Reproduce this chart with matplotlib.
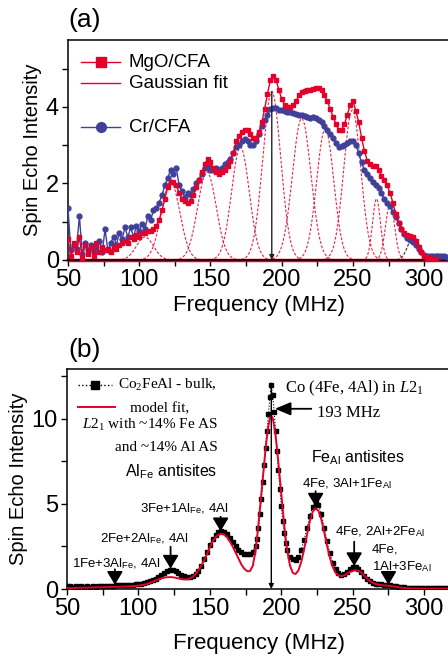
import numpy as np
import matplotlib
matplotlib.use('Agg')
import matplotlib.pyplot as plt
from matplotlib.ticker import MultipleLocator

plt.rcParams['font.family'] = 'Liberation Sans'
plt.rcParams['mathtext.fontset'] = 'custom'
plt.rcParams['mathtext.rm'] = 'Liberation Serif'
plt.rcParams['mathtext.it'] = 'Liberation Serif:italic'
plt.rcParams['mathtext.sf'] = 'Liberation Sans'

# ---------------- panel (a) data ----------------
freq_mgo = np.arange(50, 310, 2)
mgo_cfa = [0.55, 0.10, 0.45, 0.20, 0.60, 0.05, 0.40, 0.15, 0.35, 0.10,
           0.45, 0.20, 0.35, 0.25, 0.30, 0.20, 0.35, 0.30, 0.40, 0.45,
           0.50, 0.45, 0.60, 0.55, 0.65, 0.60, 0.70, 0.70, 0.75, 0.75,
           0.80, 0.90, 1.05, 1.30, 1.60, 1.90, 2.05, 2.05, 1.95, 1.75,
           1.60, 1.55, 1.50, 1.55, 1.70, 1.90, 2.10, 2.30, 2.50, 2.65,
           2.55, 2.40, 2.30, 2.25, 2.30, 2.35, 2.45, 2.60, 2.80, 3.10,
           3.25, 3.35, 3.40, 3.40, 3.30, 3.20, 3.20, 3.35, 3.60, 3.95,
           4.35, 4.70, 4.80, 4.70, 4.45, 4.20, 4.05, 4.00, 4.00, 4.05,
           4.15, 4.30, 4.38, 4.42, 4.45, 4.45, 4.47, 4.50, 4.50, 4.45,
           4.30, 4.15, 3.95, 3.75, 3.55, 3.40, 3.40, 3.55, 3.80, 4.05,
           4.15, 3.90, 3.60, 3.20, 2.85, 2.60, 2.50, 2.45, 2.45, 2.35,
           2.20, 2.10, 1.95, 1.75, 1.50, 1.20, 0.98, 0.80, 0.70, 0.66,
           0.63, 0.60, 0.50, 0.35, 0.20, 0.10, 0.06, 0.04, 0.03, 0.03]

freq_cr = np.arange(50, 318, 2)
cr_cfa = [1.35, 0.25, 0.40, 0.30, 1.15, 0.15, 0.45, 0.25, 0.40, 0.20,
          0.35, 0.50, 0.20, 0.80, 0.25, 0.45, 0.60, 0.40, 0.70, 0.55,
          0.85, 0.60, 0.85, 0.60, 0.90, 0.75, 0.95, 0.80, 1.15, 1.05,
          1.30, 1.35, 1.50, 1.70, 1.95, 2.15, 2.35, 2.25, 2.40, 1.95,
          1.80, 1.65, 1.75, 1.70, 1.85, 2.00, 2.10, 2.25, 2.40, 2.45,
          2.35, 2.35, 2.40, 2.35, 2.40, 2.50, 2.55, 2.65, 2.80, 2.95,
          3.00, 3.10, 3.15, 3.10, 3.00, 3.00, 3.10, 3.30, 3.50, 3.65,
          3.80, 3.95, 3.98, 3.96, 3.93, 3.92, 3.90, 3.88, 3.86, 3.85,
          3.82, 3.80, 3.78, 3.76, 3.73, 3.72, 3.73, 3.70, 3.65, 3.60,
          3.50, 3.40, 3.30, 3.20, 3.05, 2.95, 2.98, 3.00, 3.05, 3.12,
          3.10, 3.00, 2.80, 2.55, 2.35, 2.25, 2.15, 2.05, 1.95, 1.88,
          1.75, 1.60, 1.50, 1.40, 1.25, 1.12, 0.98, 0.82, 0.68, 0.58,
          0.52, 0.48, 0.40, 0.30, 0.20, 0.14, 0.10, 0.10, 0.10, 0.10,
          0.10, 0.10, 0.10, 0.09]

# Gaussian fit components (centre MHz, height, sigma MHz)
gauss_center = [104, 122, 147.5, 171, 193, 214, 230.5, 249.5, 266.5, 276, 292.5]
gauss_height = [0.6, 2.05, 2.3, 2.95, 4.4, 3.7, 3.42, 3.92, 1.6, 1.45, 0.62]
gauss_sigma = [6.0, 6.5, 6.5, 6.2, 6.3, 6.5, 6.0, 6.0, 2.8, 3.2, 4.0]

# ---------------- panel (b) data ----------------
freq_b = np.concatenate([np.arange(50, 183, 2), np.arange(183, 204), np.arange(204, 318, 2)])
bulk = [0.20, 0.15, 0.10, 0.20, 0.12, 0.18, 0.10, 0.15, 0.12, 0.15,
        0.12, 0.15, 0.15, 0.17, 0.18, 0.20, 0.20, 0.22, 0.22, 0.22,
        0.23, 0.23, 0.24, 0.25, 0.27, 0.30, 0.32, 0.36, 0.40, 0.45,
        0.52, 0.60, 0.70, 0.82, 0.95, 1.05, 1.12, 1.12, 1.05, 0.92,
        0.80, 0.74, 0.71, 0.72, 0.78, 0.88, 1.05, 1.35, 1.75, 2.20,
        2.60, 2.95, 3.20, 3.35, 3.42, 3.38, 3.25, 3.00, 2.75, 2.50,
        2.30, 2.15, 2.07, 2.05, 2.08, 2.20, 2.55,
        2.95, 3.60, 4.40, 5.30, 6.30, 7.30, 8.30, 9.30, 10.30, 11.30, 12.00,
        11.40, 10.40, 9.30, 8.10, 7.00, 5.90, 4.90, 4.00, 3.30, 2.70,
        2.30, 1.90, 1.75, 1.72, 1.90, 2.30, 2.90, 3.60, 4.30, 4.85,
        5.10, 4.95, 4.40, 3.60, 2.80, 2.10, 1.55, 1.15, 0.92, 0.85,
        0.90, 1.02, 1.15, 1.27, 1.30, 1.20, 1.00, 0.78, 0.58, 0.45,
        0.37, 0.32, 0.29, 0.27, 0.26, 0.24, 0.22, 0.19, 0.16, 0.13,
        0.10, 0.09, 0.08, 0.07, 0.06, 0.05, 0.05, 0.04, 0.04, 0.04,
        0.03, 0.03, 0.03, 0.03, 0.03, 0.03, 0.03]
model_fit = [0.05, 0.05, 0.06, 0.06, 0.07, 0.07, 0.08, 0.08, 0.09, 0.09,
             0.10, 0.10, 0.10, 0.11, 0.11, 0.12, 0.12, 0.13, 0.13, 0.14,
             0.14, 0.15, 0.16, 0.17, 0.18, 0.20, 0.22, 0.26, 0.30, 0.36,
             0.43, 0.50, 0.57, 0.63, 0.67, 0.69, 0.70, 0.69, 0.66, 0.62,
             0.58, 0.56, 0.57, 0.62, 0.72, 0.88, 1.10, 1.38, 1.70, 2.05,
             2.45, 2.80, 3.05, 3.20, 3.25, 3.20, 3.05, 2.80, 2.50, 2.15,
             1.80, 1.45, 1.20, 1.05, 1.05, 1.35, 2.25,
             3.00, 3.80, 4.70, 5.60, 6.50, 7.40, 8.25, 9.00, 9.60, 10.05, 10.20,
             10.05, 9.60, 9.00, 8.25, 7.40, 6.50, 5.60, 4.70, 3.80, 3.00,
             2.35, 1.40, 0.95, 0.88, 1.10, 1.60, 2.35, 3.20, 4.00, 4.55,
             4.75, 4.60, 4.10, 3.35, 2.55, 1.85, 1.30, 0.95, 0.80, 0.76,
             0.80, 0.90, 1.00, 1.07, 1.10, 1.07, 0.97, 0.80, 0.62, 0.47,
             0.37, 0.30, 0.26, 0.23, 0.21, 0.20, 0.18, 0.16, 0.13, 0.10,
             0.08, 0.06, 0.05, 0.04, 0.03, 0.03, 0.02, 0.02, 0.02, 0.02,
             0.02, 0.02, 0.02, 0.02, 0.02, 0.02, 0.02]

RED = '#E3002B'
BLUE = '#40409A'
SERIF = 'Liberation Serif'

fig = plt.figure(figsize=(4.48, 6.58), dpi=100)
ax1 = fig.add_axes([68/448, 1-260/658, 382/448, 220/658])
ax2 = fig.add_axes([67/448, 1-589/658, 383/448, 220/658])

def style_axis(ax, ymax, ymajor, xlabelpad):
    ax.set_xlim(50, 50 + 382/1.425)
    ax.set_ylim(0, ymax)
    ax.xaxis.set_major_locator(MultipleLocator(50))
    ax.xaxis.set_minor_locator(MultipleLocator(25))
    ax.yaxis.set_major_locator(MultipleLocator(ymajor))
    ax.yaxis.set_minor_locator(MultipleLocator(ymajor/2))
    ax.tick_params(which='both', direction='out', length=4.5, width=1.0,
                   labelsize=17, pad=2)
    for s in ax.spines.values():
        s.set_linewidth(1.1)
    ax.set_xlabel('Frequency (MHz)', fontsize=16, labelpad=xlabelpad)
    ax.set_ylabel('Spin Echo Intensity', fontsize=14.5, labelpad=3)

# ---------------- panel (a) ----------------
xg = np.linspace(50, 318, 800)
for c, h, s in zip(gauss_center, gauss_height, gauss_sigma):
    col = 'k' if c > 285 else RED
    ax1.plot(xg, h*np.exp(-(xg-c)**2/(2*s**2)), color=col, lw=0.8,
             ls=(0, (2.5, 1.5)), alpha=0.85, zorder=2)
ax1.plot([50, 318], [0, 0], color=RED, lw=2.5, zorder=2, clip_on=False)
ax1.plot(freq_cr, cr_cfa, '-o', color=BLUE, ms=3.5, lw=1.0, zorder=3)
ax1.plot(freq_mgo, mgo_cfa, '-s', color=RED, ms=3.5, lw=1.0, zorder=4)
ax1.annotate('', xy=(193, 0), xytext=(193, 4.4),
             arrowprops=dict(arrowstyle='-|>', color='#222222', lw=1.0,
                             mutation_scale=7, shrinkA=0, shrinkB=0), zorder=5)

# legend (a)
ax1.plot([59, 86.5], [5.17, 5.17], color=RED, lw=1.0)
ax1.plot([73], [5.17], 's', color=RED, ms=7)
ax1.text(92.8, 5.17, 'MgO/CFA', fontsize=13.5, va='center', ha='left')
ax1.plot([59, 86.5], [4.62, 4.62], color=RED, lw=1.0)
ax1.text(92.8, 4.62, 'Gaussian fit', fontsize=13.5, va='center', ha='left')
ax1.plot([59, 86.5], [3.47, 3.47], color=BLUE, lw=1.0)
ax1.plot([73], [3.47], 'o', color=BLUE, ms=7)
ax1.text(92.8, 3.47, 'Cr/CFA', fontsize=13.5, va='center', ha='left')
style_axis(ax1, 5.75, 2, 3)

# ---------------- panel (b) ----------------
ax2.plot(freq_b, bulk, 's', color='k', ms=3, zorder=3)
ax2.plot(freq_b, bulk, ':', color='k', lw=0.8, zorder=3)
ax2.plot(freq_b, model_fit, '-', color=RED, lw=1.4, zorder=4)
ax2.annotate('', xy=(193, 0), xytext=(193, 12.1),
             arrowprops=dict(arrowstyle='-|>', color='k', lw=1.0,
                             mutation_scale=7, shrinkA=0, shrinkB=0), zorder=5)
ax2.annotate('', xy=(195.5, 10.6), xytext=(221, 10.6),
             arrowprops=dict(arrowstyle='-|>,head_length=0.6,head_width=0.25',
                             color='k', lw=1.3, mutation_scale=16,
                             shrinkA=0, shrinkB=0))

down_arrows = [(83.5, 1.16, 0.25), (122.5, 2.49, 1.2), (157.5, 4.25, 3.4),
               (224, 5.75, 4.85), (251, 2.78, 1.35), (275, 0.92, 0.25)]
for x, top, tip in down_arrows:
    ax2.annotate('', xy=(x, tip), xytext=(x, top),
                 arrowprops=dict(arrowstyle='-|>,head_length=0.5,head_width=0.3',
                                 color='k', lw=1.3, mutation_scale=16,
                                 shrinkA=0, shrinkB=0), zorder=6)

ax2.text(202.7, 11.8, r'Co (4Fe, 4Al) in $\mathit{L2}_{\mathrm{1}}$', family=SERIF,
         fontsize=12, va='center', ha='left')
ax2.text(225, 10.35, '193 MHz', family=SERIF, fontsize=12, va='center', ha='left')
ax2.text(221, 7.7, r'Fe$_{\mathsf{Al}}$ antisites', fontsize=11.5, va='center', ha='left')
ax2.text(214.3, 6.2, r'4Fe, 3Al+1Fe$_{\mathsf{Al}}$', fontsize=9.5, va='center', ha='left')
ax2.text(237.7, 3.37, r'4Fe, 2Al+2Fe$_{\mathsf{Al}}$', fontsize=9.5, va='center', ha='left')
ax2.text(263.3, 2.3, '4Fe,', fontsize=9.5, va='center', ha='left')
ax2.text(263.3, 1.3, r'1Al+3Fe$_{\mathsf{Al}}$', fontsize=9.5, va='center', ha='left')
ax2.text(53.3, 1.5, r'1Fe+3Al$_{\mathsf{Fe}}$, 4Al', fontsize=9.5, va='center', ha='left')
ax2.text(73, 2.98, r'2Fe+2Al$_{\mathsf{Fe}}$, 4Al', fontsize=9.5, va='center', ha='left')
ax2.text(101, 4.75, r'3Fe+1Al$_{\mathsf{Fe}}$, 4Al', fontsize=9.5, va='center', ha='left')
ax2.text(90.6, 6.9, r'Al$_{\mathsf{Fe}}$ antisites', fontsize=11.5, va='center', ha='left')

# legend (b)
ax2.plot([57.7, 81.5], [12.0, 12.0], ':', color='k', lw=1.0)
ax2.plot([69.6], [12.0], 's', color='k', ms=5.5)
ax2.text(85.7, 12.0, r'Co$_{\mathrm{2}}$FeAl - bulk,', family=SERIF, fontsize=11,
         va='center', ha='left')
ax2.plot([57.7, 83.6], [10.7, 10.7], color=RED, lw=1.4)
ax2.text(94.1, 10.6, 'model fit,', family=SERIF, fontsize=11, va='center', ha='left')
ax2.text(60.3, 9.65, r'$\mathit{L2}_{\mathrm{1}}$ with ~14% Fe AS', family=SERIF,
         fontsize=11, va='center', ha='left')
ax2.text(83.6, 8.3, 'and ~14% Al AS', family=SERIF, fontsize=11, va='center', ha='left')
style_axis(ax2, 12.94, 5, 9)

fig.text(68/448, 1-20/658, '(a)', fontsize=19, va='center')
fig.text(68/448, 1-349.5/658, '(b)', fontsize=19, va='center')

fig.savefig('out.png', dpi=100)
